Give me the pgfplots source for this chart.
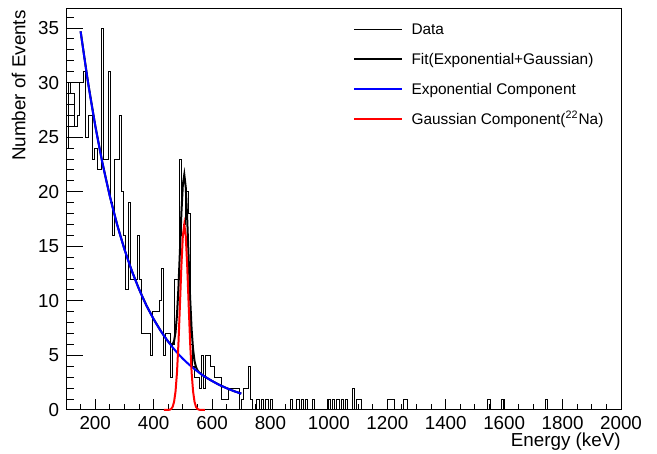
\documentclass[border=0pt]{standalone}
\usepackage{fontspec}
\setmainfont{Liberation Sans}
\usepackage{pgfplots}
\pgfplotsset{compat=1.18}
\begin{document}
\begin{tikzpicture}
\begin{axis}[
  scale only axis, width=277.5pt, height=200.5pt,
  xmin=100, xmax=2000, ymin=0, ymax=36.75,
  clip=false,
  axis line style={line width=0.5pt},
  tick pos=left, tick align=inside,
  xtick={200,400,...,2000},
  minor xtick={100,150,...,2000},
  ytick={0,5,...,35},
  minor ytick={0,1,...,36},
  every tick/.style={black, line width=0.5pt},
  xtick style={/pgfplots/major tick length=5.5pt,/pgfplots/minor tick length=2.75pt},
  ytick style={/pgfplots/major tick length=8.3pt,/pgfplots/minor tick length=4.2pt},
  /pgf/number format/assume math mode=true,
  /pgf/number format/1000 sep={},
  xticklabel style={font=\fontsize{9.4}{11}\selectfont, anchor=base, inner sep=0pt, yshift=-9.7pt},
  yticklabel style={font=\fontsize{9.4}{11}\selectfont, anchor=east, inner sep=0pt, xshift=-3.3pt},
  xlabel={Energy (keV)},
  xlabel style={font=\fontsize{9.4}{11}\selectfont, at={(axis description cs:1,0)}, anchor=base east, inner sep=0pt, yshift=-18.4pt},
  ylabel={Number of Events},
  ylabel style={font=\fontsize{9.4}{11}\selectfont, at={(axis description cs:-0.073,0.9975)}, anchor=base east, inner sep=0pt},
  legend cell align=left,
  legend style={at={(axis description cs:0.5177,0.9631)}, anchor=north west, draw=none, fill=none,
    inner sep=0pt, outer sep=0pt, row sep=8.95pt, column sep=4.4pt,
    font=\fontsize{7.7}{9}\selectfont,
    nodes={inner sep=0pt, text height=5.6pt, text depth=0.3pt}},
  legend image code/.code={\draw[#1] (0pt,0pt) -- (23.7pt,0pt);},
]
% Data histogram (bin left edges, counts)
\addplot[black, line width=0.5pt, const plot] coordinates {
(100,24) (107.6,30) (115.2,29) (130.4,26) (138,27) (145.6,30) (160.8,31) (168.4,25)
(176,27) (191.2,23) (198.8,24) (206.4,22) (221.6,35) (229.2,23) (244.4,31) (252,19)
(259.6,16) (267.2,23) (282.4,27) (290,20) (297.6,16) (305.2,11) (312.8,19) (320.4,12)
(343.2,16) (350.8,12) (358.4,7) (388.8,5) (396.4,9) (419.2,10) (426.8,13) (434.4,5)
(442,7) (457.2,3) (464.8,6) (472.4,12) (487.6,23) (495.2,16) (502.8,17) (510.4,20)
(518,18) (525.6,6) (533.2,4) (540.8,3) (556,2) (563.6,5) (571.2,2) (578.8,5)
(594,4) (609.2,3) (632,1) (654.8,2) (692.8,0) (700.4,1) (708,2) (723.2,4)
(730.8,1) (738.4,0) (753.6,1) (761.2,0) (768.8,1) (776.4,0) (784,1) (791.6,0)
(799.2,1) (806.8,0) (867.6,1) (875.2,0) (890.4,1) (898,0) (905.6,1) (913.2,0)
(920.8,1) (928.4,0) (943.6,1) (951.2,0) (996.8,1) (1004.4,0) (1012,1) (1019.6,0)
(1027.2,1) (1034.8,0) (1042.4,1) (1050,0) (1057.6,1) (1065.2,0) (1080.4,2) (1088,0)
(1095.6,1) (1110.8,0) (1202,1) (1224.8,0) (1255.2,1) (1270.4,0) (1544,1) (1551.6,0)
(1589.6,1) (1597.2,0) (1741.6,1) (1749.2,0) (2000,0)
};
\addlegendentry{Data}
% Total fit
\addplot[black, line width=1pt] coordinates {
(150,34.70) (175,30.09) (200,26.08) (225,22.61) (250,19.61) (275,17.00) (300,14.74)
(325,12.78) (350,11.08) (375,9.60) (400,8.33) (425,7.22) (435,6.82) (440,6.63)
(445,6.44) (450,6.27) (455,6.11) (460,6.01) (465,6.03) (470,6.33) (475,7.13)
(480,8.72) (485,11.25) (490,14.56) (495,18.01) (500,20.65) (505,21.57) (510,20.39)
(515,17.49) (520,13.78) (525,10.21) (530,7.41) (535,5.56) (540,4.49) (545,3.93)
(550,3.64) (555,3.47) (560,3.35) (565,3.24) (570,3.15) (575,3.06) (600,2.66)
(625,2.30) (650,2.00) (675,1.73) (700,1.50)
};
\addlegendentry{Fit(Exponential+Gaussian)}
% Exponential component
\addplot[blue, line width=1pt, smooth] coordinates {
(150,34.70) (175,30.09) (200,26.08) (225,22.61) (250,19.61) (275,17.00) (300,14.74)
(325,12.78) (350,11.08) (375,9.60) (400,8.33) (425,7.22) (450,6.26) (475,5.42)
(500,4.70) (525,4.08) (550,3.54) (575,3.06) (600,2.66) (625,2.30) (650,2.00)
(675,1.73) (700,1.50)
};
\addlegendentry{Exponential Component}
% Gaussian component
\addplot[red, line width=1pt] coordinates {
(435,0.00) (440,0.00) (445,0.00) (450,0.01) (455,0.03) (460,0.10) (465,0.29)
(470,0.75) (475,1.71) (480,3.45) (485,6.13) (490,9.58) (495,13.17) (500,15.95)
(505,17.00) (510,15.95) (515,13.17) (520,9.58) (525,6.13) (530,3.45) (535,1.71)
(540,0.75) (545,0.29) (550,0.10) (555,0.03) (560,0.01) (565,0.00) (570,0.00) (575,0.00)
};
\addlegendentry{Gaussian Component(\textsuperscript{22}Na)}
\end{axis}
\path ([shift={(-33pt,-22pt)}]current axis.south west) rectangle ([shift={(18pt,4.5pt)}]current axis.north east);
\end{tikzpicture}
\end{document}
